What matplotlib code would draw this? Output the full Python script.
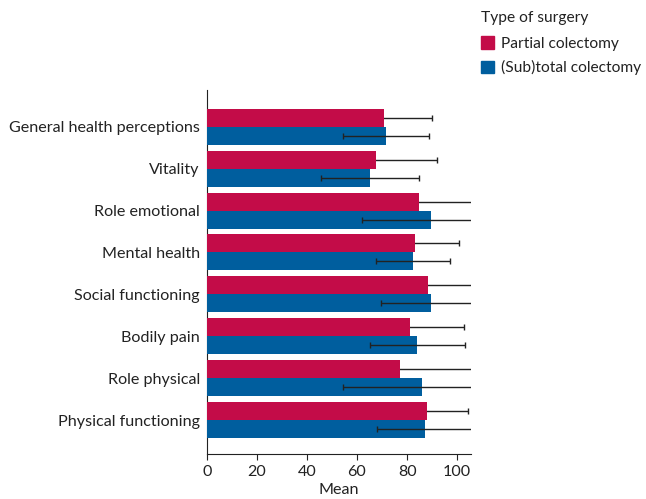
import numpy as np
import matplotlib
matplotlib.use('Agg')
import matplotlib.pyplot as plt
from matplotlib.patches import Patch

plt.rcParams['font.family'] = ['Lato', 'DejaVu Sans']

# data, top to bottom as shown
categories = ['General health perceptions', 'Vitality', 'Role emotional', 'Mental health',
              'Social functioning', 'Bodily pain', 'Role physical', 'Physical functioning']
partial_mean = [70.8, 67.5, 84.8, 83.2, 88.4, 81.2, 77.2, 88.0]
partial_sd = [19.1, 24.5, 25.0, 17.7, 20.0, 21.6, 30.0, 16.3]
subtotal_mean = [71.6, 65.2, 89.6, 82.3, 89.6, 84.0, 86.0, 87.2]
subtotal_sd = [17.3, 19.4, 27.5, 14.9, 20.0, 19.0, 31.6, 19.2]

red = '#C30C48'
blue = '#005E9E'
txt = '#222222'

fig = plt.figure(figsize=(6.46, 4.99), dpi=100)
ax = fig.add_axes([0.320, 0.090, 0.409, 0.730])

n = len(categories)
y = np.arange(n)[::-1]
h = 0.43

ax.barh(y + h/2, partial_mean, height=h, color=red, zorder=3)
ax.barh(y - h/2, subtotal_mean, height=h, color=blue, zorder=3)
ax.errorbar(partial_mean, y + h/2, xerr=partial_sd, fmt='none', ecolor=txt,
            elinewidth=1, capsize=2.5, capthick=1, zorder=2)
ax.errorbar(subtotal_mean, y - h/2, xerr=subtotal_sd, fmt='none', ecolor=txt,
            elinewidth=1, capsize=2.5, capthick=1, zorder=4)

ax.set_xlim(0, 105.5)
ax.set_ylim(-0.81, n - 1 + 0.88)
ax.set_yticks(y)
ax.set_yticklabels(categories, fontsize=11.6, color=txt)
ax.set_xticks([0, 20, 40, 60, 80, 100])
ax.tick_params(axis='x', labelsize=11.6, length=4, colors=txt)
ax.tick_params(axis='y', length=0, pad=5)
ax.set_xlabel('Mean', fontsize=11.6, color=txt, labelpad=3)
for s in ['top', 'right']:
    ax.spines[s].set_visible(False)
ax.spines['left'].set_color(txt)
ax.spines['bottom'].set_color(txt)

handles = [Patch(color=red, label='Partial colectomy'),
           Patch(color=blue, label='(Sub)total colectomy')]
leg = fig.legend(handles=handles, title='Type of surgery', loc='upper left',
                 bbox_to_anchor=(0.740, 0.984), frameon=False, fontsize=11.2,
                 title_fontsize=11.2, handlelength=0.85, handleheight=0.85,
                 handletextpad=0.45, labelspacing=0.6, borderaxespad=0,
                 borderpad=0.2)
leg._legend_box.align = 'left'
for t in leg.get_texts():
    t.set_color(txt)
leg.get_title().set_color(txt)
# extra gap between title and entries
leg._legend_box.sep = 8

fig.savefig('out.png', dpi=100)
